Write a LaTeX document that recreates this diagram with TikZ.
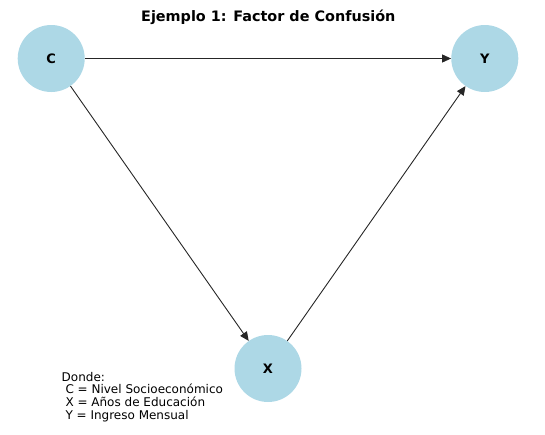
\documentclass[tikz,border=0pt]{standalone}
\usepackage{fontspec}
\setmainfont{DejaVu Sans}
\usetikzlibrary{arrows.meta}
\begin{document}
\begin{tikzpicture}[x=1pt,y=-1pt,
  vnode/.style={circle,fill=nodeblue,minimum size=67pt,inner sep=0pt,font=\bfseries\fontsize{13}{15}\selectfont},
  edge/.style={draw=black!85,line width=0.9pt,-{Triangle[length=9pt,width=8pt]}}]
\definecolor{nodeblue}{HTML}{ADD8E6}
\useasboundingbox (0,0) rectangle (545,434);
\node[font=\bfseries\fontsize{14.4}{16}\selectfont,anchor=base] (title) at (268.3,21) {Ejemplo 1: Factor de Confusión};
\node[vnode] (C) at (51.2,58.5) {C};
\node[vnode] (Y) at (484.8,58.5) {Y};
\node[vnode] (X) at (268,368.5) {X};
\draw[edge] (C) -- (Y);
\draw[edge] (C) -- (X);
\draw[edge] (X) -- (Y);
\node[anchor=north west,align=left,inner sep=0pt,font=\fontsize{12}{12.8}\selectfont] (legend) at (61.5,371.8)
 {Donde:\\\ C = Nivel Socioeconómico\\\ X = Años de Educación\\\ Y = Ingreso Mensual};
\end{tikzpicture}
\end{document}
